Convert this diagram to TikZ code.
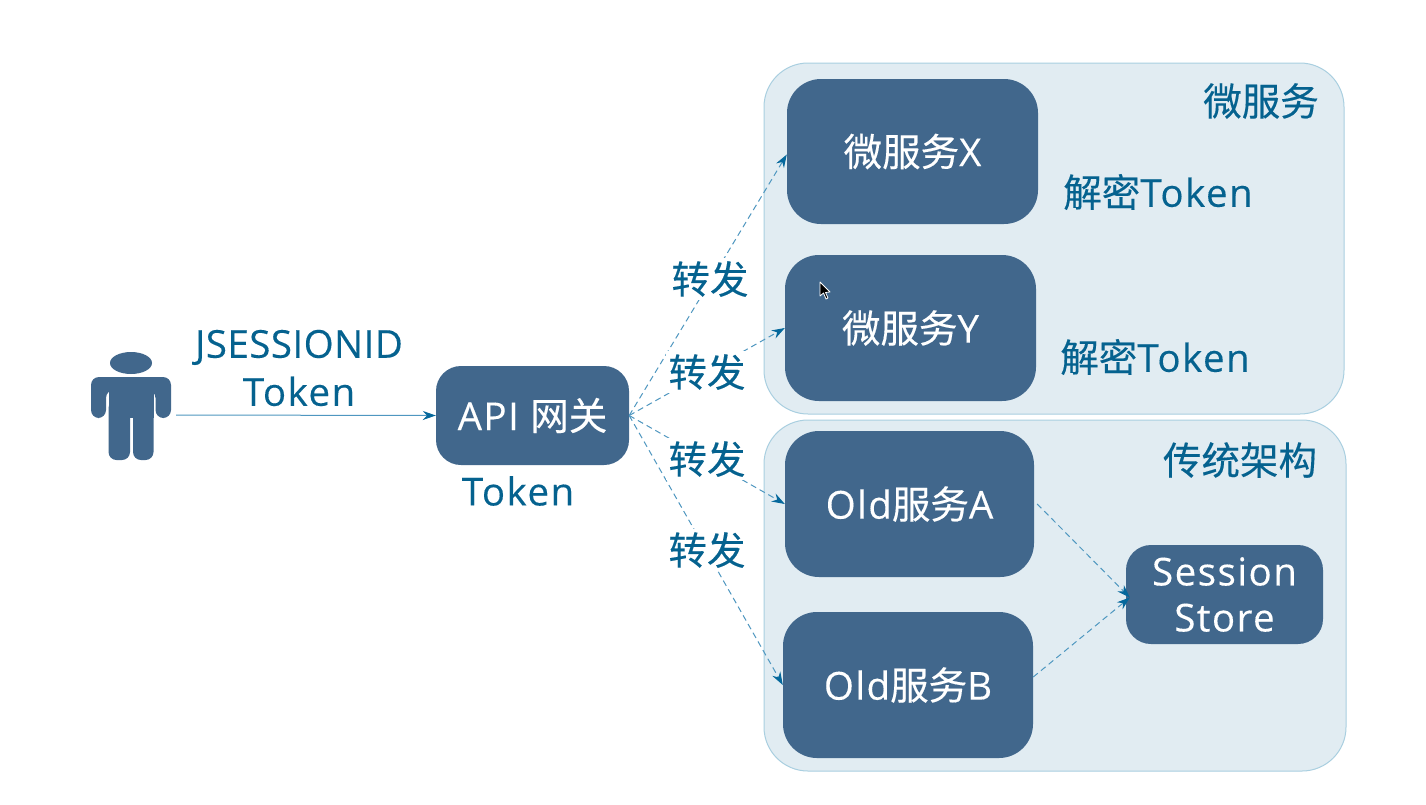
\documentclass[tikz,border=0pt]{standalone}
\usepackage{fontspec}
\setmainfont[LetterSpace=3.8,FakeBold=0.25]{Open Sans}
\newfontfamily\capsfont[LetterSpace=1.2,FakeBold=0.25]{Open Sans}
\newfontfamily\cjk[FakeBold=0.25]{Noto Sans CJK SC}
\usetikzlibrary{arrows.meta,calc}
\definecolor{panelfill}{HTML}{E1ECF2}
\definecolor{paneledge}{HTML}{A9CFE0}
\definecolor{boxfill}{HTML}{41678C}
\definecolor{labelink}{HTML}{05628F}
\definecolor{linkline}{HTML}{4F97C0}
\definecolor{tipfill}{HTML}{05689C}
\newcommand{\zh}[1]{{\cjk #1}}
\tikzset{
  x=1pt,y=-1pt,
  panel/.style={draw=paneledge,line width=1pt,fill=panelfill,rounded corners=44pt},
  svcbox/.style={fill=boxfill,text=white,rounded corners=34pt,inner sep=0pt,align=center,font=\fontsize{38.5}{46}\selectfont},
  smallbox/.style={svcbox,rounded corners=25pt},
  lbl/.style={text=labelink,inner sep=0pt,align=center,font=\fontsize{38.5}{48}\selectfont},
  fwdlbl/.style={lbl,fill=white,inner sep=3pt},
  solidlink/.style={draw=linkline,line width=1pt,-{Stealth[length=13pt,width=9pt,color=tipfill,fill=tipfill]}},
  dashlink/.style={solidlink,dash pattern=on 6pt off 4pt},
}
\begin{document}
\begin{tikzpicture}
\useasboundingbox (0,0) rectangle (1426,804);
\fill[white] (0,0) rectangle (1426,804);

% group panels
\draw[panel] (764,63) rectangle (1344,414);
\draw[panel] (764,420) rectangle (1346,771);

% user figure: head, shoulders with arms, torso and two legs
\fill[boxfill] (131,363) ellipse [x radius=21,y radius=11];
\fill[boxfill,rounded corners=8pt]
  (91,418) -- (91,377) -- (171,377) -- (171,418) -- (155.5,418) -- (155.5,390)
  -- (106,390) -- (106,418) -- cycle;
\fill[boxfill] (108.5,385) rectangle (153.5,418);
\fill[boxfill,rounded corners=8pt] (108.5,400) rectangle (130,460);
\fill[boxfill,rounded corners=8pt] (133,400) rectangle (153.5,460);
\coordinate (user) at (176,415);

% service boxes
\node[smallbox,minimum width=193pt,minimum height=99pt] (api) at (532.5,415.5) {API \zh{网关}};
\node[svcbox,minimum width=251pt,minimum height=145pt] (x) at (912.5,151.5) {\zh{微服务}X};
\node[svcbox,minimum width=251pt,minimum height=146pt] (y) at (910.5,328) {\zh{微服务}Y};
\node[svcbox,minimum width=249pt,minimum height=146pt] (a) at (909.5,504) {Old\zh{服务}A};
\node[svcbox,minimum width=250pt,minimum height=146pt] (b) at (908,685) {Old\zh{服务}B};
\node[smallbox,minimum width=197pt,minimum height=99pt] (store) at (1224.5,594.5) {Session\\Store};

% connectors
\draw[solidlink] (user) -- (api.west);
\draw[dashlink] (api.east) -- ($(x.west)+(0,3)$);
\draw[dashlink] (api.east) -- (y.west);
\draw[dashlink] (api.east) -- (a.west);
\draw[dashlink] (api.east) -- (b.west);
\draw[dashlink] ($(a.east)+(3,0)$) -- ($(store.west)+(4,3)$);
\draw[dashlink] ($(b.east)+(0,-8)$) -- ($(store.west)+(4,3)$);

% labels
\node[lbl] (session) at (299,368) {{\capsfont JSESSIONID}\\Token};
\node[lbl] (gwtoken) at (518,491) {Token};
\node[fwdlbl] (f1) at (710,279) {\zh{转发}};
\node[fwdlbl] (f2) at (707,372) {\zh{转发}};
\node[fwdlbl] (f3) at (707,459) {\zh{转发}};
\node[fwdlbl] (f4) at (707,550) {\zh{转发}};
\node[lbl] (g1) at (1261,101) {\zh{微服务}};
\node[lbl] (g2) at (1240,460) {\zh{传统架构}};
\node[lbl] (d1) at (1158,192) {\zh{解密}Token};
\node[lbl] (d2) at (1155,357) {\zh{解密}Token};

% mouse pointer
\draw[white,line width=.8pt,fill=black,line join=round]
  (820,282) -- (820,296) -- (823.5,293) -- (826,299) -- (828,298) -- (825.5,292.5) -- (830,292) -- cycle;
\end{tikzpicture}
\end{document}
